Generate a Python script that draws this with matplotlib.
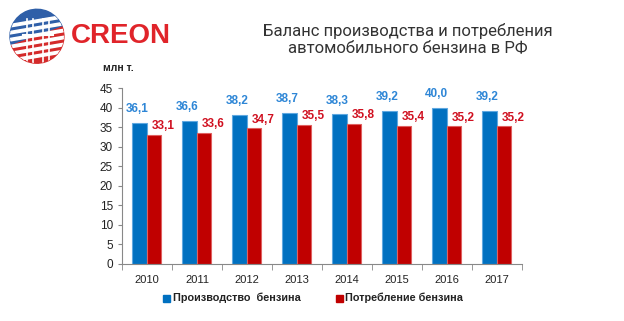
import numpy as np
import matplotlib.pyplot as plt
from matplotlib.patches import Circle, Wedge, Rectangle

years = ['2010', '2011', '2012', '2013', '2014', '2015', '2016', '2017']
production = [36.1, 36.6, 38.2, 38.7, 38.3, 39.2, 40.0, 39.2]
consumption = [33.1, 33.6, 34.7, 35.5, 35.8, 35.4, 35.2, 35.2]
yticks = [0, 5, 10, 15, 20, 25, 30, 35, 40, 45]

blue = '#0070C0'
red = '#C00000'

plt.rcParams['font.family'] = ['Liberation Sans', 'DejaVu Sans']
fig = plt.figure(figsize=(6.24, 3.21), dpi=100)

# main chart
ax = fig.add_axes([0.1955, 0.1776, 0.641, 0.548])
x = np.arange(len(years))
w = 0.29
ax.bar(x - w / 2, production, w, color=blue, edgecolor='#5fa8e0', linewidth=0.8)
ax.bar(x + w / 2, consumption, w, color=red, edgecolor='#e06060', linewidth=0.8)

for i in range(len(years)):
    ax.annotate(f'{production[i]:.1f}'.replace('.', ','), (x[i] - w * 0.7, production[i]),
                xytext=(0, 5.5), textcoords='offset points', ha='center', va='bottom',
                color='#2e86d6', fontsize=8.5, fontweight='bold')
    ax.annotate(f'{consumption[i]:.1f}'.replace('.', ','), (x[i] + w * 0.3, consumption[i]),
                xytext=(0, 2), textcoords='offset points', ha='left', va='bottom',
                color='#d01020', fontsize=8.5, fontweight='bold')

ax.set_xlim(-0.5, len(years) - 0.5)
ax.set_ylim(0, 45)
ax.set_yticks(yticks)
ax.set_xticks(x)
ax.set_xticklabels(years)
ax.set_xticks(np.arange(-0.5, len(years)), minor=True)
ax.tick_params(axis='x', which='major', length=0, labelsize=8, pad=8, colors='#222')
ax.tick_params(axis='x', which='minor', length=4, color='#888')
ax.tick_params(axis='y', length=3, labelsize=8.5, colors='#222', color='#888')
for s in ['top', 'right']:
    ax.spines[s].set_visible(False)
for s in ['left', 'bottom']:
    ax.spines[s].set_color('#888')

fig.text(0.165, 0.788, 'млн т.', fontsize=7.5, fontweight='bold', color='#222', va='center')

# legend
fig.patches.append(Rectangle((0.262, 0.06), 0.011, 0.022, transform=fig.transFigure,
                             color=blue, figure=fig))
fig.text(0.277, 0.071, 'Производство  бензина', fontsize=7.8, fontweight='bold',
         color='#222', va='center')
fig.patches.append(Rectangle((0.539, 0.06), 0.011, 0.022, transform=fig.transFigure,
                             color=red, figure=fig))
fig.text(0.553, 0.071, 'Потребление бензина', fontsize=7.8, fontweight='bold',
         color='#222', va='center')

# title
fig.text(0.653, 0.878, 'Баланс производства и потребления\nавтомобильного бензина в РФ',
         ha='center', va='center', fontsize=12, color='#333', family=['Roboto', 'DejaVu Sans'],
         linespacing=1.15)

# logo
lax = fig.add_axes([0, 0.74, 0.12, 0.26])
lax.set_xlim(0, 75)
lax.set_ylim(0, 83)
lax.set_aspect('equal')
lax.axis('off')
c = (37, 47)
lax.add_patch(Wedge(c, 27, 20, 200, color='#2f5fa8'))
lax.add_patch(Wedge(c, 27, 200, 380, color='#d42a2a'))
clip = Circle(c, 27, transform=lax.transData)
for yy in [62, 55, 48, 41, 34, 27]:
    st = lax.fill_between([5, 75], [yy - 6, yy + 6], [yy - 3.5, yy + 8.5], color='white')
    st.set_clip_path(clip)
for xx in [27, 33, 43, 49]:
    ln, = lax.plot([xx, xx], [16, 64], color='white', lw=1.2)
    ln.set_clip_path(clip)
lax.plot([23, 53], [48, 48], color='white', lw=1.5)
fig.text(0.113, 0.888, 'CREON', fontsize=20, fontweight='bold', color='#e0242a', va='center')

fig.savefig('out.png', dpi=100)
